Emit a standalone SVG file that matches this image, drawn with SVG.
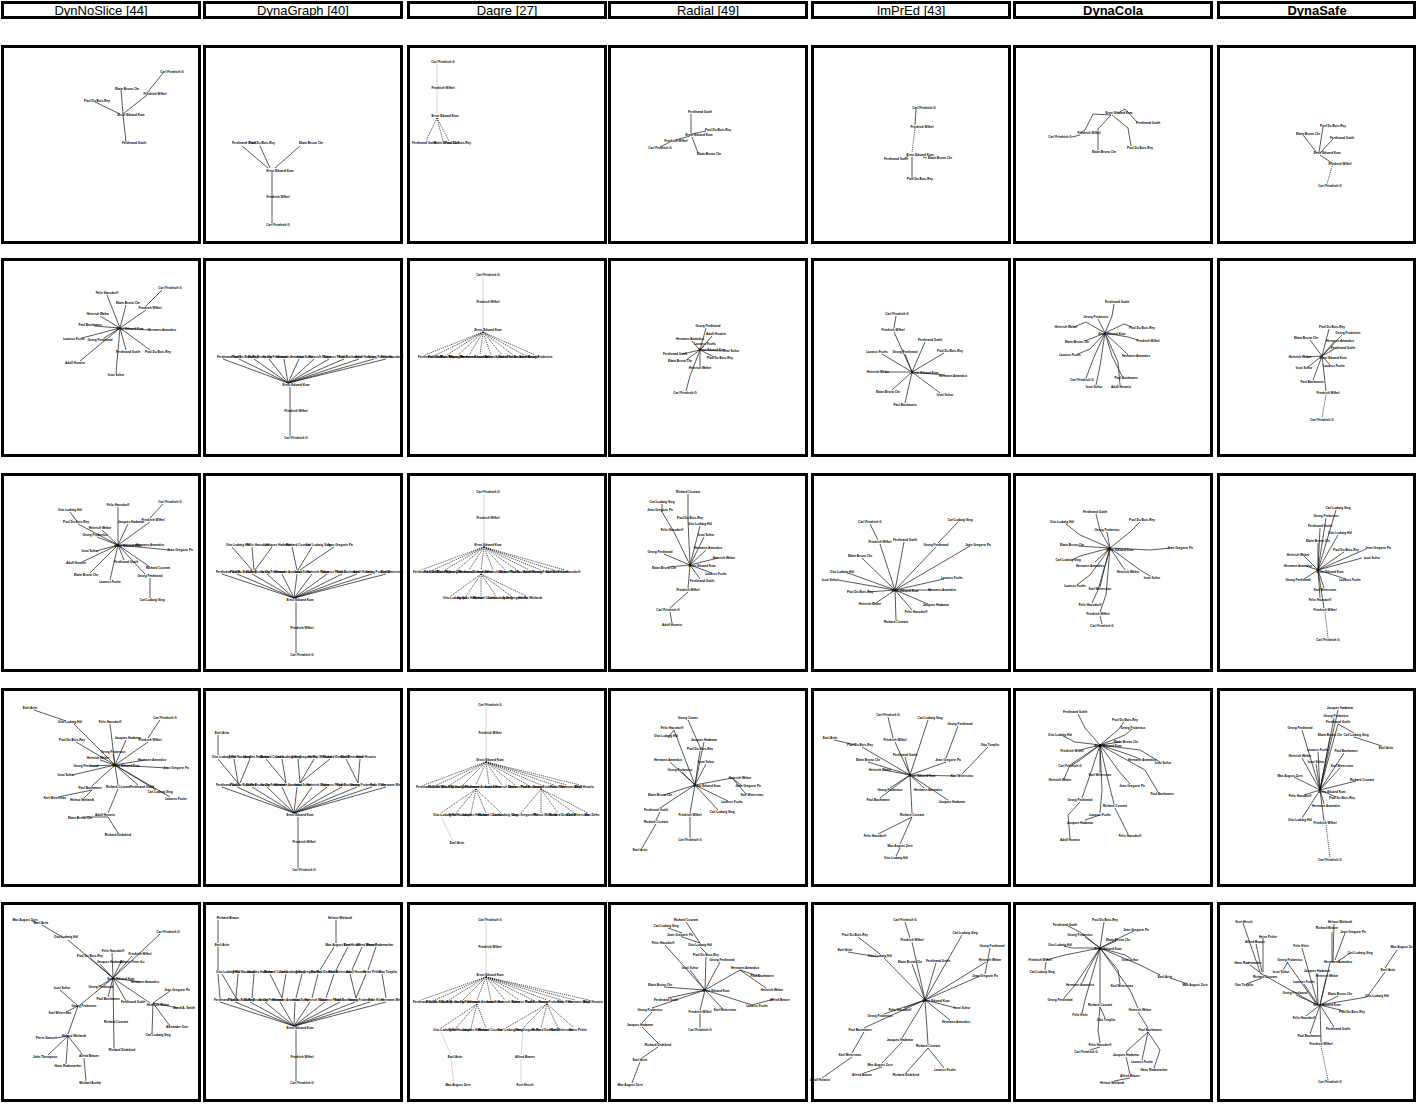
<svg xmlns="http://www.w3.org/2000/svg" width="1417" height="1104" viewBox="0 0 1417 1104">
<style>
.f{fill:#fff;stroke:#000;stroke-width:3}
.ht{font-family:"Liberation Sans",Arial,sans-serif;font-size:13px;text-anchor:middle;fill:#000}
.bd{font-weight:bold}
#connectors path{fill:none;stroke:#111;stroke-width:0.7}
#connectors path.d{stroke-dasharray:1.2 0.9}
#connectors path.g{stroke:#c4c4c4}
.nodes text{font-family:"Liberation Sans",Arial,sans-serif;font-size:3.1px;font-weight:bold;text-anchor:middle;fill:#000}
</style>
<rect x="0" y="0" width="1417" height="1104" fill="#fff"/>
<g id="headers">
<rect class="f" x="2.5" y="2.5" width="197" height="15"/><text class="ht" x="101" y="14.5">DynNoSlice [44]</text>
<rect class="f" x="204.5" y="2.5" width="197" height="15"/><text class="ht" x="303" y="14.5">DynaGraph [40]</text>
<rect class="f" x="408.5" y="2.5" width="197" height="15"/><text class="ht" x="507" y="14.5">Dagre [27]</text>
<rect class="f" x="609.5" y="2.5" width="197" height="15"/><text class="ht" x="708" y="14.5">Radial [49]</text>
<rect class="f" x="812.5" y="2.5" width="197" height="15"/><text class="ht" x="911" y="14.5">ImPrEd [43]</text>
<rect class="f" x="1014.5" y="2.5" width="197" height="15"/><text class="ht bd" x="1113" y="14.5">DynaCola</text>
<rect class="f" x="1218.5" y="2.5" width="196" height="15"/><text class="ht bd" x="1317" y="14.5">DynaSafe</text>
</g>
<g id="frames">
<rect class="f" x="2.5" y="46.5" width="197" height="196"/><rect class="f" x="204.5" y="46.5" width="197" height="196"/><rect class="f" x="408.5" y="46.5" width="197" height="196"/><rect class="f" x="609.5" y="46.5" width="197" height="196"/><rect class="f" x="812.5" y="46.5" width="197" height="196"/><rect class="f" x="1014.5" y="46.5" width="197" height="196"/><rect class="f" x="1218.5" y="46.5" width="196" height="196"/>
<rect class="f" x="2.5" y="259.5" width="197" height="196"/><rect class="f" x="204.5" y="259.5" width="197" height="196"/><rect class="f" x="408.5" y="259.5" width="197" height="196"/><rect class="f" x="609.5" y="259.5" width="197" height="196"/><rect class="f" x="812.5" y="259.5" width="197" height="196"/><rect class="f" x="1014.5" y="259.5" width="197" height="196"/><rect class="f" x="1218.5" y="259.5" width="196" height="196"/>
<rect class="f" x="2.5" y="474.5" width="197" height="196"/><rect class="f" x="204.5" y="474.5" width="197" height="196"/><rect class="f" x="408.5" y="474.5" width="197" height="196"/><rect class="f" x="609.5" y="474.5" width="197" height="196"/><rect class="f" x="812.5" y="474.5" width="197" height="196"/><rect class="f" x="1014.5" y="474.5" width="197" height="196"/><rect class="f" x="1218.5" y="474.5" width="196" height="196"/>
<rect class="f" x="2.5" y="689.5" width="197" height="196"/><rect class="f" x="204.5" y="689.5" width="197" height="196"/><rect class="f" x="408.5" y="689.5" width="197" height="196"/><rect class="f" x="609.5" y="689.5" width="197" height="196"/><rect class="f" x="812.5" y="689.5" width="197" height="196"/><rect class="f" x="1014.5" y="689.5" width="197" height="196"/><rect class="f" x="1218.5" y="689.5" width="196" height="196"/>
<rect class="f" x="2.5" y="903.5" width="197" height="197"/><rect class="f" x="204.5" y="903.5" width="197" height="197"/><rect class="f" x="408.5" y="903.5" width="197" height="197"/><rect class="f" x="609.5" y="903.5" width="197" height="197"/><rect class="f" x="812.5" y="903.5" width="197" height="197"/><rect class="f" x="1014.5" y="903.5" width="197" height="197"/><rect class="f" x="1218.5" y="903.5" width="196" height="197"/>
</g>
<g id="connectors">
<path d="M163,73L147,93M147,95L123,114M121,90L123,114M95,102L120,114M123,115L126,142"/>
<path d="M242,146L268,168M260,146L270,168M300,146L275,168M272,172L272,223"/>
<path class="g" d="M437,64L437,114"/><path class="d" d="M437,118L426,141M437,118L443,141M437,118L449,141"/>
<path d="M691,114L691,134M706,131L692,134M690,136L675,140M670,142L660,147M692,137L698,153"/>
<path d="M916,109L915,125M912,157L912,178M905,158L908,156M923,157L927,158"/><path class="d" d="M915,128L912,153"/>
<path d="M1111,115L1093,114L1085,130L1080,133M1072,137L1080,135M1111,115L1098,129L1098,150M1112,115L1128,128L1131,146M1118,113L1125,109L1137,122"/>
<path d="M1323,127L1319,152M1303,135L1317,153M1333,139L1320,153M1320,155L1332,163"/><path class="d" d="M1332,166L1327,184"/>

<path d="M162,290L146,306M146,310L120,328M107,295L120,328M126,305L120,328M100,316L120,328M94,326L120,328M150,330L120,328M104,338L120,328M82,338L120,328M150,350L120,328M126,350L120,328M80,361L120,328M116,373L120,328"/>
<path d="M288,383L223,359M288,383L239,359M288,383L254,359M288,383L269,359M288,383L284,359M288,383L299,359M288,383L314,359M288,383L329,359M288,383L344,359M288,383L359,359M288,383L374,359M288,383L386,359M290,387L290,436"/>
<path class="g" d="M483,277L483,328"/><path class="d" d="M483,332L425,355M483,332L436,355M483,332L447,355M483,332L458,355M483,332L469,355M483,332L480,355M483,332L491,355M483,332L502,355M483,332L513,355M483,332L524,355M483,332L535,355"/>
<path d="M700,350L706,328M700,350L712,336M700,350L692,341M700,350L704,346M700,350L722,351M700,350L714,357M700,350L682,354M700,350L686,360M700,350L700,366M700,350L690,376L686,391"/>
<path d="M896,316L894,328M894,332L912,372M925,342L912,372M905,354L912,372M944,353L912,372M885,372L912,372M945,375L912,372M892,390L912,372M940,393L912,372M905,403L912,372M882,354L912,372"/>
<path d="M1105,333L1112,316L1114,304M1105,333L1098,319M1105,333L1124,324L1132,327M1105,333L1086,322L1074,327M1105,333L1128,337L1138,340M1105,333L1085,341M1105,333L1090,349L1078,354M1105,333L1122,349L1128,355M1105,333L1112,356L1122,376M1105,333L1094,357L1086,378M1105,333L1100,366L1096,385M1105,333L1118,362L1120,385"/>
<path d="M1322,356L1329,329M1322,356L1342,335M1322,356L1310,340M1322,356L1334,342M1322,356L1336,348M1322,356L1306,357M1322,356L1330,365M1322,356L1308,367M1322,356L1313,380M1322,356L1326,391"/><path class="d" d="M1326,395L1322,418"/>

<path d="M163,504L150,518M150,522L118,545M118,507L118,545M70,512L76,520M78,524L118,545M128,524L118,545M102,530L118,545M97,537L118,545M140,545L118,545M170,550L118,545M96,551L118,545M124,560L118,545M150,567L118,545M145,574L118,545M90,573L118,545M110,580L118,545M150,598L150,578M82,562L118,545"/>
<path d="M232,547L252,570M252,547L254,570M272,547L255,570M292,547L297,570M312,547L298,570M334,547L300,570M294,598L222,574M294,598L237,574M294,598L252,574M294,598L267,574M294,598L282,574M294,598L297,574M294,598L312,574M294,598L327,574M294,598L342,574M294,598L357,574M294,598L372,574M294,598L386,574M296,602L296,653"/>
<path class="g" d="M484,494L484,543"/><path class="d" d="M484,547L421,570M484,547L433,570M484,547L445,570M484,547L457,570M484,547L469,570M484,547L481,570M484,547L493,570M484,547L505,570M484,547L517,570M484,547L529,570M484,547L541,570M484,547L553,570M484,547L565,570M481,574L451,596M481,574L466,596M481,574L481,596M481,574L496,596M481,574L511,596M481,574L526,596"/>
<path d="M690,565L688,520M688,520L688,494M690,565L700,526M690,565L674,532M674,532L662,512M662,512L662,504M690,565L704,537M690,565L664,554M690,565L706,550M690,565L718,558M690,565L712,573M690,565L668,567M690,565L700,579M690,565L688,588M688,592L670,608M670,612L672,623"/>
<path d="M870,524L878,540M880,544L895,590M958,522L938,543M936,547L895,590M904,542L895,590M970,546L895,590M862,558L895,590M848,573L895,590M838,580L895,590M868,592L895,590M932,590L895,590M944,579L895,590M928,604L895,590M876,603L895,590M912,610L895,590M896,620L895,590"/>
<path d="M1110,548L1100,530L1096,514M1110,548L1130,532L1140,522M1110,548L1080,535L1066,524M1110,548L1107,532M1110,548L1078,546M1110,548L1150,550L1170,548M1110,548L1080,556L1072,560M1110,548L1095,562M1110,548L1125,570M1110,548L1140,570L1150,576M1110,548L1090,575L1078,584M1110,548L1104,570L1100,587M1110,548L1098,590L1092,603M1110,548L1106,595L1100,612M1100,616L1102,624"/>
<path d="M1318,570L1336,510M1318,570L1326,518M1318,570L1320,528M1318,570L1338,535M1318,570L1318,543M1318,570L1344,552M1318,570L1366,549M1318,570L1362,558M1318,570L1304,556M1318,570L1306,566M1318,570L1346,579M1318,570L1304,579M1318,570L1324,588M1318,570L1320,598M1318,570L1324,608"/><path class="d" d="M1325,612L1328,638"/>

<path d="M34,710L66,721M74,724L115,765M110,724L115,765M160,720L148,738M148,742L115,765M76,742L115,765M126,740L115,765M113,754L115,765M100,760L115,765M145,760L115,765M90,766L115,765M168,768L115,765M72,775L115,765M115,765L92,786M92,790L58,797M92,790L84,798M115,765L138,785M115,765L118,785M115,765L156,790M115,765L170,797M118,789L108,813M108,817L82,817M108,817L118,833"/>
<path d="M218,735L218,755M218,759L238,783M234,759L238,783M250,759L240,783M266,759L286,783M282,759L286,783M298,759L300,783M314,759L300,783M330,759L300,783M346,759L358,783M360,759L358,783M294,813L222,787M294,813L237,787M294,813L252,787M294,813L267,787M294,813L282,787M294,813L297,787M294,813L312,787M294,813L327,787M294,813L342,787M294,813L357,787M294,813L372,787M294,813L386,787M298,817L298,868"/>
<path class="g" d="M486,707L486,758M441,817L453,841"/><path class="d" d="M486,762L424,785M486,762L437,785M486,762L450,785M486,762L463,785M486,762L476,785M486,762L489,785M486,762L502,785M486,762L515,785M486,762L528,785M486,762L541,785M486,762L554,785M486,762L567,785M486,762L580,785M476,789L441,813M476,789L456,813M476,789L471,813M476,789L486,813M476,789L501,813M541,789L521,813M541,789L541,813M541,789L558,813M541,789L574,813M541,789L588,813"/>
<path d="M695,785L700,751M700,747L688,720M695,785L674,730M674,730L668,738M695,785L704,742M695,785L670,762M695,785L706,764M695,785L682,772M695,785L732,778M732,778L742,786M732,778L746,794M695,785L728,801M695,785L664,795M695,785L660,808M660,812L656,820M656,824L642,848M695,785L690,813M690,817L690,838M695,785L718,810"/>
<path d="M888,717L893,738M895,742L910,775M910,775L928,720M958,726L946,758M946,762L910,775M988,747L962,774M955,776L910,775M834,740L856,745M862,747L910,775M905,757L910,775M868,762L910,775M884,770L910,775M890,788L910,775M924,788L910,775M948,800L910,775M880,798L910,775M910,775L912,813M912,817L878,834M912,817L900,844M900,848L896,856"/>
<path d="M1100,745L1085,728L1078,714M1100,745L1118,730L1124,722M1100,745L1125,735L1132,729M1100,745L1075,742L1063,736M1100,745L1120,742M1100,745L1080,750M1100,745L1130,755L1140,759M1100,745L1140,750L1160,762M1100,745L1080,760L1072,765M1100,745L1100,773M1100,745L1070,765L1064,779M1100,745L1118,770L1130,784M1100,745L1145,770L1158,792M1100,745L1090,775L1082,798M1100,745L1108,780L1114,804M1100,745L1102,790L1100,813M1100,815L1085,820M1115,808L1128,834M1080,802L1068,815L1070,838"/>
<path d="M1320,790L1338,710M1320,790L1334,718M1320,790L1338,724M1338,724L1354,733M1354,737L1382,746M1320,790L1302,730M1320,790L1330,737M1320,790L1318,752M1320,790L1344,753M1320,790L1302,758M1320,790L1316,764M1320,790L1340,768M1320,790L1294,777M1320,790L1356,781M1320,790L1304,795M1320,790L1336,797M1320,790L1324,804M1320,790L1302,818M1320,790L1324,821"/><path class="d" d="M1326,825L1330,858"/>

<path d="M32,921L37,923M42,925L64,938M68,940L113,978M160,934L113,978M112,953L113,978M132,956L113,978M122,960L113,978M100,964L113,978M90,958L113,978M113,978L140,982M113,978L100,986M113,978L150,1003M153,1003L170,991M153,1003L178,1008M153,1003L170,1026M153,1003L152,1034M113,978L108,997M113,978L126,1001M113,978L114,1048M113,978L80,1005M78,1006L60,990M78,1006L66,1012M78,1006L68,1034M68,1036L56,1038M68,1036L48,1055M68,1036L66,1064M68,1036L82,1054M84,1058L86,1081"/>
<path d="M218,920L218,943M218,947L218,970M218,974L220,998M336,920L336,943M334,947L320,970M348,947L336,970M362,947L352,970M376,947L368,970M222,974L236,998M238,974L236,998M254,974L252,998M270,974L282,998M286,974L282,998M302,974L296,998M318,974L312,998M334,974L326,998M350,974L356,998M366,974L356,998M382,974L386,998M294,1026L220,1002M294,1026L235,1002M294,1026L250,1002M294,1026L265,1002M294,1026L280,1002M294,1026L295,1002M294,1026L310,1002M294,1026L325,1002M294,1026L340,1002M294,1026L355,1002M294,1026L370,1002M294,1026L386,1002M296,1030L296,1081"/>
<path class="g" d="M486,922L486,973M441,1032L451,1055M451,1059L454,1083M523,1032L521,1055M521,1059L521,1083"/><path class="d" d="M486,977L421,1000M486,977L435,1000M486,977L449,1000M486,977L463,1000M486,977L477,1000M486,977L491,1000M486,977L505,1000M486,977L519,1000M486,977L533,1000M486,977L547,1000M486,977L561,1000M486,977L575,1000M486,977L589,1000M477,1004L441,1028M477,1004L456,1028M477,1004L471,1028M477,1004L486,1028M547,1004L506,1028M547,1004L523,1028M547,1004L541,1028M547,1004L558,1028M547,1004L574,1028"/>
<path d="M705,990L706,957M706,953L700,947M700,943L686,922M700,943L682,937M682,933L668,928M705,990L665,945M705,990L720,962M705,990L690,970M705,990L740,970M740,970L758,976M740,970L766,988M705,990L752,1005M752,1005L774,999M705,990L664,987M705,990L668,998M705,990L652,1008M652,1012L642,1023M705,990L700,1010M705,990L722,1008M642,1027L658,1043M700,1014L700,1028M658,1047L642,1058M640,1062L632,1083"/>
<path d="M905,922L910,938M912,942L925,1000M962,935L925,1000M990,948L985,974M980,976L925,1000M858,937L880,954M848,952L878,957M884,958L925,1000M912,964L925,1000M936,963L925,1000M986,962L925,1000M904,1008L925,1000M884,1014L925,1000M956,1008L925,1000M950,1020L925,1000M925,1000L864,1028M864,1032L852,1053M925,1000L902,1038M925,1000L928,1044M902,1042L882,1063M852,1057L822,1078M882,1067L864,1073M928,1048L906,1073M928,1048L944,1068"/>
<path d="M1100,948L1080,932L1068,926M1100,948L1104,922M1100,948L1085,937M1100,948L1072,948L1064,946M1100,948L1125,935L1134,931M1100,948L1116,941M1100,948L1065,955L1046,960M1046,962L1045,970M1100,948L1125,955L1130,958M1100,948L1140,965L1160,975M1170,978L1188,984M1100,948L1088,970L1082,983M1100,948L1118,970L1120,984M1100,948L1075,985L1064,998M1100,948L1100,980L1100,1003M1100,948L1130,990L1138,1008M1100,948L1085,1000L1082,1013M1100,1007L1105,1018M1138,1012L1148,1028M1100,1007L1098,1030L1100,1043M1100,1047L1090,1050M1148,1032L1128,1050L1126,1053M1148,1032L1142,1060M1148,1032L1160,1050L1154,1068M1126,1057L1130,1074M1130,1078L1114,1081"/>
<path d="M1243,923L1260,972M1260,973L1317,1005M1263,938L1263,972M1256,944L1262,972M1250,965L1262,974M1246,984L1262,978M1287,962L1317,1005M1283,970L1288,962M1302,948L1318,1005M1317,973L1318,1005M1326,978L1320,1005M1304,984L1318,1005M1296,995L1318,1005M1338,996L1320,1005M1320,1005L1367,997M1367,997L1385,972M1385,968L1397,950M1320,1005L1330,963M1332,962L1332,932M1333,962L1334,924M1335,960L1345,933M1337,962L1350,953M1320,1005L1344,1011M1320,1005L1306,1016M1320,1005L1334,1027M1320,1005L1310,1034M1320,1005L1321,1042"/><path class="d" d="M1321,1046L1328,1080"/>
</g>

<g class="nodes" id="panel-r0c0">
<g id="a1"><text x="172" y="73">Carl Friedrich G</text></g><g id="a2"><text x="155" y="95">Friedrich Wilhel</text></g><g id="a3"><text x="127" y="90">Elwin Bruno Chr</text></g><g id="a4"><text x="97" y="102">Paul Du Bois-Rey</text></g><g id="a5"><text x="131" y="116">Ernst Eduard Kum</text></g><g id="a6"><text x="134" y="144">Ferdinand Gotth</text></g>
</g>
<g class="nodes" id="panel-r0c1">
<g id="b1"><text x="244" y="144">Ferdinand Gotth</text></g><g id="b2"><text x="262" y="144">Paul Du Bois-Rey</text></g><g id="b3"><text x="311" y="144">Elwin Bruno Chr</text></g><g id="b4"><text x="280" y="172">Ernst Eduard Kum</text></g><g id="b5"><text x="278" y="198">Friedrich Wilhel</text></g><g id="b6"><text x="278" y="226">Carl Friedrich G</text></g>
</g>
<g class="nodes" id="panel-r0c2">
<g id="c1"><text x="443" y="63">Carl Friedrich G</text></g><g id="c2"><text x="443" y="89">Friedrich Wilhel</text></g><g id="c3"><text x="445" y="117">Ernst Eduard Kum</text></g><g id="c4"><text x="424" y="144">Ferdinand Gotth</text></g><g id="c5"><text x="446" y="144">Elwin Bruno Chr</text></g><g id="c6"><text x="458" y="144">Paul Du Bois-Rey</text></g>
</g>
<g class="nodes" id="panel-r0c3">
<g id="d1"><text x="700" y="113">Ferdinand Gotth</text></g><g id="d2"><text x="718" y="131">Paul Du Bois-Rey</text></g><g id="d3"><text x="699" y="136">Ernst Eduard Kum</text></g><g id="d4"><text x="676" y="142">Friedrich Wilhel</text></g><g id="d5"><text x="660" y="149">Carl Friedrich G</text></g><g id="d6"><text x="709" y="155">Elwin Bruno Chr</text></g>
</g>
<g class="nodes" id="panel-r0c4">
<g id="e1"><text x="924" y="109">Carl Friedrich G</text></g><g id="e2"><text x="922" y="128">Friedrich Wilhel</text></g><g id="e3"><text x="920" y="156">Ernst Eduard Kum</text></g><g id="e4"><text x="896" y="160">Ferdinand Gotth</text></g><g id="e5"><text x="940" y="159">Elwin Bruno Chr</text></g><g id="e6"><text x="920" y="180">Paul Du Bois-Rey</text></g>
</g>
<g class="nodes" id="panel-r0c5">
<g id="f1"><text x="1119" y="114">Ernst Eduard Kum</text></g><g id="f2"><text x="1148" y="124">Ferdinand Gotth</text></g><g id="f3"><text x="1089" y="134">Friedrich Wilhel</text></g><g id="f4"><text x="1060" y="138">Carl Friedrich G</text></g><g id="f5"><text x="1104" y="153">Elwin Bruno Chr</text></g><g id="f6"><text x="1140" y="149">Paul Du Bois-Rey</text></g>
</g>
<g class="nodes" id="panel-r0c6">
<g id="g1"><text x="1333" y="127">Paul Du Bois-Rey</text></g><g id="g2"><text x="1308" y="135">Elwin Bruno Chr</text></g><g id="g3"><text x="1342" y="139">Ferdinand Gotth</text></g><g id="g4"><text x="1327" y="154">Ernst Eduard Kum</text></g><g id="g5"><text x="1340" y="165">Friedrich Wilhel</text></g><g id="g6"><text x="1330" y="187">Carl Friedrich G</text></g>
</g>

<g class="nodes" id="panel-r1c0">
<g id="h1"><text x="130" y="330">Ernst Eduard Kum</text></g><g id="h2"><text x="170" y="289">Carl Friedrich G</text></g><g id="h3"><text x="150" y="309">Friedrich Wilhel</text></g><g id="h4"><text x="107" y="294">Felix Hausdorff</text></g><g id="h5"><text x="128" y="304">Elwin Bruno Chr</text></g><g id="h6"><text x="98" y="315">Heinrich Weber</text></g><g id="h7"><text x="90" y="326">Paul Bachmann</text></g><g id="h8"><text x="162" y="331">Hermann Amandus</text></g><g id="h9"><text x="100" y="341">Georg Ferdinand</text></g><g id="h10"><text x="74" y="340">Lazarus Fuchs</text></g><g id="h11"><text x="158" y="353">Paul Du Bois-Rey</text></g><g id="h12"><text x="128" y="353">Ferdinand Gotth</text></g><g id="h13"><text x="75" y="364">Adolf Hurwitz</text></g><g id="h14"><text x="116" y="376">Issai Schur</text></g>
</g>
<g class="nodes" id="panel-r1c1">
<g id="i1"><text x="296" y="386">Ernst Eduard Kum</text></g><g id="i2"><text x="296" y="412">Friedrich Wilhel</text></g><g id="i3"><text x="296" y="439">Carl Friedrich G</text></g><g id="i4"><text x="229" y="358">Ferdinand Gotth</text></g><g id="i5"><text x="245" y="358">Paul Du Bois-Rey</text></g><g id="i6"><text x="260" y="358">Elwin Bruno Chr</text></g><g id="i7"><text x="275" y="358">Georg Ferdinand</text></g><g id="i8"><text x="290" y="358">Hermann Amandus</text></g><g id="i9"><text x="305" y="358">Issai Schur</text></g><g id="i10"><text x="320" y="358">Heinrich Weber</text></g><g id="i11"><text x="335" y="358">Lazarus Fuchs</text></g><g id="i12"><text x="350" y="358">Paul Bachmann</text></g><g id="i13"><text x="365" y="358">Adolf Hurwitz</text></g><g id="i14"><text x="380" y="358">Georg Frobenius</text></g><g id="i15"><text x="392" y="358">Felix Hausdorff</text></g>
</g>
<g class="nodes" id="panel-r1c2">
<g id="j1"><text x="488" y="276">Carl Friedrich G</text></g><g id="j2"><text x="488" y="303">Friedrich Wilhel</text></g><g id="j3"><text x="488" y="331">Ernst Eduard Kum</text></g><g id="j4"><text x="430" y="358">Ferdinand Gotth</text></g><g id="j5"><text x="441" y="358">Paul Du Bois-Rey</text></g><g id="j6"><text x="452" y="358">Elwin Bruno Chr</text></g><g id="j7"><text x="463" y="358">Georg Ferdinand</text></g><g id="j8"><text x="474" y="358">Hermann Amandus</text></g><g id="j9"><text x="485" y="358">Issai Schur</text></g><g id="j10"><text x="496" y="358">Heinrich Weber</text></g><g id="j11"><text x="507" y="358">Lazarus Fuchs</text></g><g id="j12"><text x="518" y="358">Paul Bachmann</text></g><g id="j13"><text x="529" y="358">Adolf Hurwitz</text></g><g id="j14"><text x="540" y="358">Georg Frobenius</text></g>
</g>
<g class="nodes" id="panel-r1c3">
<g id="k1"><text x="712" y="351">Ernst Eduard Kum</text></g><g id="k2"><text x="708" y="327">Georg Ferdinand</text></g><g id="k3"><text x="716" y="335">Adolf Hurwitz</text></g><g id="k4"><text x="690" y="340">Hermann Amandus</text></g><g id="k5"><text x="705" y="345">Lazarus Fuchs</text></g><g id="k6"><text x="731" y="352">Issai Schur</text></g><g id="k7"><text x="720" y="359">Paul Du Bois-Rey</text></g><g id="k8"><text x="675" y="355">Ferdinand Gotth</text></g><g id="k9"><text x="680" y="362">Elwin Bruno Chr</text></g><g id="k10"><text x="700" y="369">Heinrich Weber</text></g><g id="k11"><text x="685" y="394">Carl Friedrich G</text></g>
</g>
<g class="nodes" id="panel-r1c4">
<g id="l1"><text x="925" y="374">Ernst Eduard Kum</text></g><g id="l2"><text x="897" y="315">Carl Friedrich G</text></g><g id="l3"><text x="893" y="331">Friedrich Wilhel</text></g><g id="l4"><text x="930" y="341">Ferdinand Gotth</text></g><g id="l5"><text x="905" y="353">Georg Ferdinand</text></g><g id="l6"><text x="950" y="352">Paul Du Bois-Rey</text></g><g id="l7"><text x="878" y="373">Heinrich Weber</text></g><g id="l8"><text x="953" y="377">Hermann Amandus</text></g><g id="l9"><text x="888" y="393">Elwin Bruno Chr</text></g><g id="l10"><text x="945" y="396">Issai Schur</text></g><g id="l11"><text x="905" y="406">Paul Bachmann</text></g><g id="l12"><text x="877" y="353">Lazarus Fuchs</text></g>
</g>
<g class="nodes" id="panel-r1c5">
<g id="m1"><text x="1112" y="335">Ernst Eduard Kum</text></g><g id="m2"><text x="1117" y="303">Ferdinand Gotth</text></g><g id="m3"><text x="1096" y="318">Georg Frobenius</text></g><g id="m4"><text x="1142" y="329">Paul Du Bois-Rey</text></g><g id="m5"><text x="1066" y="328">Heinrich Weber</text></g><g id="m6"><text x="1148" y="342">Friedrich Wilhel</text></g><g id="m7"><text x="1077" y="343">Elwin Bruno Chr</text></g><g id="m8"><text x="1070" y="356">Lazarus Fuchs</text></g><g id="m9"><text x="1136" y="357">Hermann Amandus</text></g><g id="m10"><text x="1126" y="379">Paul Bachmann</text></g><g id="m11"><text x="1082" y="381">Carl Friedrich G</text></g><g id="m12"><text x="1094" y="388">Issai Schur</text></g><g id="m13"><text x="1121" y="388">Adolf Hurwitz</text></g>
</g>
<g class="nodes" id="panel-r1c6">
<g id="n1"><text x="1333" y="359">Ernst Eduard Kum</text></g><g id="n2"><text x="1332" y="328">Paul Du Bois-Rey</text></g><g id="n3"><text x="1348" y="334">Georg Frobenius</text></g><g id="n4"><text x="1306" y="339">Elwin Bruno Chr</text></g><g id="n5"><text x="1340" y="342">Hermann Amandus</text></g><g id="n6"><text x="1343" y="349">Ferdinand Gotth</text></g><g id="n7"><text x="1300" y="358">Heinrich Weber</text></g><g id="n8"><text x="1334" y="367">Lazarus Fuchs</text></g><g id="n9"><text x="1304" y="369">Issai Schur</text></g><g id="n10"><text x="1312" y="383">Paul Bachmann</text></g><g id="n11"><text x="1328" y="394">Friedrich Wilhel</text></g><g id="n12"><text x="1322" y="421">Carl Friedrich G</text></g>
</g>

<g class="nodes" id="panel-r2c0">
<g id="o1"><text x="128" y="547">Ernst Eduard Kum</text></g><g id="o2"><text x="170" y="503">Carl Friedrich G</text></g><g id="o3"><text x="153" y="521">Friedrich Wilhel</text></g><g id="o4"><text x="118" y="506">Felix Hausdorff</text></g><g id="o5"><text x="70" y="511">Otto Ludwig Höl</text></g><g id="o6"><text x="76" y="523">Paul Du Bois-Rey</text></g><g id="o7"><text x="131" y="523">Jacques Hadamar</text></g><g id="o8"><text x="100" y="529">Heinrich Weber</text></g><g id="o9"><text x="95" y="536">Georg Frobenius</text></g><g id="o10"><text x="150" y="546">Hermann Amandus</text></g><g id="o11"><text x="180" y="551">Jean Gregorie Pa</text></g><g id="o12"><text x="90" y="552">Issai Schur</text></g><g id="o13"><text x="126" y="563">Ferdinand Gotth</text></g><g id="o14"><text x="158" y="569">Richard Courant</text></g><g id="o15"><text x="150" y="577">Georg Ferdinand</text></g><g id="o16"><text x="86" y="576">Elwin Bruno Chr</text></g><g id="o17"><text x="110" y="583">Lazarus Fuchs</text></g><g id="o18"><text x="152" y="601">Carl Ludwig Sieg</text></g><g id="o19"><text x="76" y="564">Adolf Hurwitz</text></g>
</g>
<g class="nodes" id="panel-r2c1">
<g id="p1"><text x="238" y="546">Otto Ludwig Höl</text></g><g id="p2"><text x="258" y="546">Felix Hausdorff</text></g><g id="p3"><text x="278" y="546">Jacques Hadamar</text></g><g id="p4"><text x="298" y="546">Richard Courant</text></g><g id="p5"><text x="318" y="546">Carl Ludwig Sieg</text></g><g id="p6"><text x="340" y="546">Jean Gregorie Pa</text></g>
<g id="p7"><text x="228" y="573">Ferdinand Gotth</text></g><g id="p8"><text x="243" y="573">Paul Du Bois-Rey</text></g><g id="p9"><text x="258" y="573">Elwin Bruno Chr</text></g><g id="p10"><text x="273" y="573">Georg Ferdinand</text></g><g id="p11"><text x="288" y="573">Hermann Amandus</text></g><g id="p12"><text x="303" y="573">Issai Schur</text></g><g id="p13"><text x="318" y="573">Heinrich Weber</text></g><g id="p14"><text x="333" y="573">Lazarus Fuchs</text></g><g id="p15"><text x="348" y="573">Paul Bachmann</text></g><g id="p16"><text x="363" y="573">Adolf Hurwitz</text></g><g id="p17"><text x="378" y="573">Georg Frobenius</text></g><g id="p18"><text x="392" y="573">Karl Weierstras</text></g>
<g id="p19"><text x="300" y="601">Ernst Eduard Kum</text></g><g id="p20"><text x="302" y="629">Friedrich Wilhel</text></g><g id="p21"><text x="302" y="656">Carl Friedrich G</text></g>
</g>
<g class="nodes" id="panel-r2c2">
<g id="q1"><text x="488" y="493">Carl Friedrich G</text></g><g id="q2"><text x="488" y="519">Friedrich Wilhel</text></g><g id="q3"><text x="488" y="546">Ernst Eduard Kum</text></g>
<g id="q4"><text x="425" y="573">Ferdinand Gotth</text></g><g id="q5"><text x="437" y="573">Paul Du Bois-Rey</text></g><g id="q6"><text x="449" y="573">Elwin Bruno Chr</text></g><g id="q7"><text x="461" y="573">Georg Ferdinand</text></g><g id="q8"><text x="473" y="573">Hermann Amandus</text></g><g id="q9"><text x="485" y="573">Issai Schur</text></g><g id="q10"><text x="497" y="573">Heinrich Weber</text></g><g id="q11"><text x="509" y="573">Lazarus Fuchs</text></g><g id="q12"><text x="521" y="573">Paul Bachmann</text></g><g id="q13"><text x="533" y="573">Adolf Hurwitz</text></g><g id="q14"><text x="545" y="573">Georg Frobenius</text></g><g id="q15"><text x="557" y="573">Karl Weierstras</text></g><g id="q16"><text x="569" y="573">Felix Hausdorff</text></g>
<g id="q17"><text x="455" y="599">Otto Ludwig Höl</text></g><g id="q18"><text x="470" y="599">Jacques Hadamar</text></g><g id="q19"><text x="485" y="599">Richard Courant</text></g><g id="q20"><text x="500" y="599">Carl Ludwig Sieg</text></g><g id="q21"><text x="515" y="599">Jean Gregorie Pa</text></g><g id="q22"><text x="530" y="599">Helmut Wielandt</text></g>
</g>
<g class="nodes" id="panel-r2c3">
<g id="r1"><text x="702" y="567">Ernst Eduard Kum</text></g><g id="r2"><text x="688" y="493">Richard Courant</text></g><g id="r3"><text x="662" y="503">Carl Ludwig Sieg</text></g><g id="r4"><text x="660" y="511">Jean Gregorie Pa</text></g><g id="r5"><text x="690" y="519">Paul Du Bois-Rey</text></g><g id="r6"><text x="700" y="525">Otto Ludwig Höl</text></g><g id="r7"><text x="672" y="531">Felix Hausdorff</text></g><g id="r8"><text x="706" y="536">Issai Schur</text></g><g id="r9"><text x="660" y="553">Georg Ferdinand</text></g><g id="r10"><text x="708" y="549">Hermann Amandus</text></g><g id="r11"><text x="724" y="559">Heinrich Weber</text></g><g id="r12"><text x="716" y="575">Lazarus Fuchs</text></g><g id="r13"><text x="664" y="569">Elwin Bruno Chr</text></g><g id="r14"><text x="702" y="582">Ferdinand Gotth</text></g><g id="r15"><text x="688" y="591">Friedrich Wilhel</text></g><g id="r16"><text x="668" y="611">Carl Friedrich G</text></g><g id="r17"><text x="672" y="626">Adolf Hurwitz</text></g>
</g>
<g class="nodes" id="panel-r2c4">
<g id="s1"><text x="905" y="592">Ernst Eduard Kum</text></g><g id="s2"><text x="870" y="523">Carl Friedrich G</text></g><g id="s3"><text x="880" y="543">Friedrich Wilhel</text></g><g id="s4"><text x="960" y="521">Carl Ludwig Sieg</text></g><g id="s5"><text x="936" y="546">Georg Ferdinand</text></g><g id="s6"><text x="905" y="541">Ferdinand Gotth</text></g><g id="s7"><text x="978" y="546">Jean Gregorie Pa</text></g><g id="s8"><text x="860" y="557">Elwin Bruno Chr</text></g><g id="s9"><text x="842" y="573">Otto Ludwig Höl</text></g><g id="s10"><text x="830" y="581">Issai Schur</text></g><g id="s11"><text x="860" y="593">Paul Du Bois-Rey</text></g><g id="s12"><text x="942" y="591">Hermann Amandus</text></g><g id="s13"><text x="952" y="579">Lazarus Fuchs</text></g><g id="s14"><text x="936" y="606">Jacques Hadamar</text></g><g id="s15"><text x="870" y="605">Heinrich Weber</text></g><g id="s16"><text x="916" y="613">Felix Hausdorff</text></g><g id="s17"><text x="896" y="623">Richard Courant</text></g>
</g>
<g class="nodes" id="panel-r2c5">
<g id="t1"><text x="1120" y="551">Ernst Eduard Kum</text></g><g id="t2"><text x="1095" y="513">Ferdinand Gotth</text></g><g id="t3"><text x="1142" y="521">Paul Du Bois-Rey</text></g><g id="t4"><text x="1062" y="523">Otto Ludwig Höl</text></g><g id="t5"><text x="1107" y="531">Georg Frobenius</text></g><g id="t6"><text x="1072" y="546">Elwin Bruno Chr</text></g><g id="t7"><text x="1180" y="549">Jean Gregorie Pa</text></g><g id="t8"><text x="1068" y="561">Carl Ludwig Sieg</text></g><g id="t9"><text x="1090" y="567">Hermann Amandus</text></g><g id="t10"><text x="1128" y="573">Heinrich Weber</text></g><g id="t11"><text x="1152" y="579">Issai Schur</text></g><g id="t12"><text x="1075" y="587">Lazarus Fuchs</text></g><g id="t13"><text x="1100" y="590">Karl Weierstras</text></g><g id="t14"><text x="1090" y="606">Felix Hausdorff</text></g><g id="t15"><text x="1098" y="615">Friedrich Wilhel</text></g><g id="t16"><text x="1102" y="627">Carl Friedrich G</text></g>
</g>
<g class="nodes" id="panel-r2c6">
<g id="u1"><text x="1330" y="573">Ernst Eduard Kum</text></g><g id="u2"><text x="1338" y="509">Carl Ludwig Sieg</text></g><g id="u3"><text x="1326" y="517">Georg Frobenius</text></g><g id="u4"><text x="1320" y="527">Ferdinand Gotth</text></g><g id="u5"><text x="1340" y="534">Otto Ludwig Höl</text></g><g id="u6"><text x="1318" y="542">Elwin Bruno Chr</text></g><g id="u7"><text x="1346" y="551">Paul Du Bois-Rey</text></g><g id="u8"><text x="1378" y="549">Jean Gregorie Pa</text></g><g id="u9"><text x="1372" y="559">Issai Schur</text></g><g id="u10"><text x="1298" y="556">Heinrich Weber</text></g><g id="u11"><text x="1298" y="567">Hermann Amandus</text></g><g id="u12"><text x="1350" y="581">Lazarus Fuchs</text></g><g id="u13"><text x="1298" y="581">Georg Ferdinand</text></g><g id="u14"><text x="1325" y="591">Karl Weierstras</text></g><g id="u15"><text x="1320" y="601">Felix Hausdorff</text></g><g id="u16"><text x="1325" y="611">Friedrich Wilhel</text></g><g id="u17"><text x="1328" y="641">Carl Friedrich G</text></g>
</g>

<g class="nodes" id="panel-r3c0">
<g id="v1"><text x="126" y="767">Ernst Eduard Kum</text></g><g id="v2"><text x="30" y="709">Emil Artin</text></g><g id="v3"><text x="70" y="723">Otto Ludwig Höl</text></g><g id="v4"><text x="110" y="723">Felix Hausdorff</text></g><g id="v5"><text x="165" y="719">Carl Friedrich G</text></g><g id="v6"><text x="150" y="741">Friedrich Wilhel</text></g><g id="v7"><text x="72" y="741">Paul Du Bois-Rey</text></g><g id="v8"><text x="128" y="739">Jacques Hadamar</text></g><g id="v9"><text x="113" y="753">Georg Frobenius</text></g><g id="v10"><text x="98" y="759">Heinrich Weber</text></g><g id="v11"><text x="152" y="761">Hermann Amandus</text></g><g id="v12"><text x="86" y="767">Georg Ferdinand</text></g><g id="v13"><text x="176" y="769">Jean Gregorie Pa</text></g><g id="v14"><text x="66" y="776">Issai Schur</text></g><g id="v15"><text x="90" y="789">Paul Bachmann</text></g><g id="v16"><text x="142" y="788">Ferdinand Gotth</text></g><g id="v17"><text x="118" y="788">Richard Courant</text></g><g id="v18"><text x="55" y="799">Karl Weierstras</text></g><g id="v19"><text x="82" y="801">Helmut Wielandt</text></g><g id="v20"><text x="160" y="793">Carl Ludwig Sieg</text></g><g id="v21"><text x="176" y="800">Lazarus Fuchs</text></g><g id="v22"><text x="105" y="816">Adolf Hurwitz</text></g><g id="v23"><text x="80" y="819">Elwin Bruno Chr</text></g><g id="v24"><text x="118" y="836">Richard Dedekind</text></g>
</g>
<g class="nodes" id="panel-r3c1">
<g id="w1"><text x="222" y="734">Emil Artin</text></g>
<g id="w2"><text x="224" y="758">Otto Ludwig Höl</text></g><g id="w3"><text x="240" y="758">Felix Hausdorff</text></g><g id="w4"><text x="256" y="758">Jacques Hadamar</text></g><g id="w5"><text x="272" y="758">Richard Courant</text></g><g id="w6"><text x="288" y="758">Carl Ludwig Sieg</text></g><g id="w7"><text x="304" y="758">Jean Gregorie Pa</text></g><g id="w8"><text x="320" y="758">Helmut Wielandt</text></g><g id="w9"><text x="336" y="758">Richard Dedekind</text></g><g id="w10"><text x="352" y="758">Karl Weierstras</text></g><g id="w11"><text x="366" y="758">Adolf Hurwitz</text></g>
<g id="w12"><text x="228" y="786">Ferdinand Gotth</text></g><g id="w13"><text x="243" y="786">Paul Du Bois-Rey</text></g><g id="w14"><text x="258" y="786">Elwin Bruno Chr</text></g><g id="w15"><text x="273" y="786">Georg Ferdinand</text></g><g id="w16"><text x="288" y="786">Hermann Amandus</text></g><g id="w17"><text x="303" y="786">Issai Schur</text></g><g id="w18"><text x="318" y="786">Heinrich Weber</text></g><g id="w19"><text x="333" y="786">Lazarus Fuchs</text></g><g id="w20"><text x="348" y="786">Paul Bachmann</text></g><g id="w21"><text x="363" y="786">Georg Frobenius</text></g><g id="w22"><text x="378" y="786">Felix Klein</text></g><g id="w23"><text x="392" y="786">Hermann Weyl</text></g>
<g id="w24"><text x="300" y="816">Ernst Eduard Kum</text></g><g id="w25"><text x="304" y="843">Friedrich Wilhel</text></g><g id="w26"><text x="304" y="871">Carl Friedrich G</text></g>
</g>
<g class="nodes" id="panel-r3c2">
<g id="x1"><text x="490" y="706">Carl Friedrich G</text></g><g id="x2"><text x="490" y="734">Friedrich Wilhel</text></g><g id="x3"><text x="490" y="761">Ernst Eduard Kum</text></g>
<g id="x4"><text x="428" y="788">Ferdinand Gotth</text></g><g id="x5"><text x="441" y="788">Paul Du Bois-Rey</text></g><g id="x6"><text x="454" y="788">Elwin Bruno Chr</text></g><g id="x7"><text x="467" y="788">Georg Ferdinand</text></g><g id="x8"><text x="480" y="788">Hermann Amandus</text></g><g id="x9"><text x="493" y="788">Issai Schur</text></g><g id="x10"><text x="506" y="788">Heinrich Weber</text></g><g id="x11"><text x="519" y="788">Lazarus Fuchs</text></g><g id="x12"><text x="532" y="788">Paul Bachmann</text></g><g id="x13"><text x="545" y="788">Georg Frobenius</text></g><g id="x14"><text x="558" y="788">Felix Klein</text></g><g id="x15"><text x="571" y="788">Hermann Weyl</text></g><g id="x16"><text x="584" y="788">Adolf Hurwitz</text></g>
<g id="x17"><text x="445" y="816">Otto Ludwig Höl</text></g><g id="x18"><text x="460" y="816">Felix Hausdorff</text></g><g id="x19"><text x="475" y="816">Jacques Hadamar</text></g><g id="x20"><text x="490" y="816">Richard Courant</text></g><g id="x21"><text x="505" y="816">Carl Ludwig Sieg</text></g><g id="x22"><text x="525" y="816">Jean Gregorie Pa</text></g><g id="x23"><text x="545" y="816">Helmut Wielandt</text></g><g id="x24"><text x="562" y="816">Richard Dedekind</text></g><g id="x25"><text x="578" y="816">Karl Weierstras</text></g><g id="x26"><text x="592" y="816">Max Dehn</text></g>
<g id="x27"><text x="457" y="844">Emil Artin</text></g>
</g>
<g class="nodes" id="panel-r3c3">
<g id="y1"><text x="707" y="787">Ernst Eduard Kum</text></g><g id="y2"><text x="688" y="719">Georg Cantor</text></g><g id="y3"><text x="672" y="729">Felix Hausdorff</text></g><g id="y4"><text x="666" y="737">Otto Ludwig Höl</text></g><g id="y5"><text x="704" y="741">Jacques Hadamar</text></g><g id="y6"><text x="700" y="750">Paul Du Bois-Rey</text></g><g id="y7"><text x="668" y="761">Hermann Amandus</text></g><g id="y8"><text x="706" y="763">Issai Schur</text></g><g id="y9"><text x="680" y="771">Georg Frobenius</text></g><g id="y10"><text x="740" y="779">Heinrich Weber</text></g><g id="y11"><text x="748" y="787">Jean Gregorie Pa</text></g><g id="y12"><text x="752" y="796">Karl Weierstras</text></g><g id="y13"><text x="732" y="803">Lazarus Fuchs</text></g><g id="y14"><text x="660" y="796">Elwin Bruno Chr</text></g><g id="y15"><text x="656" y="811">Ferdinand Gotth</text></g><g id="y16"><text x="656" y="823">Richard Courant</text></g><g id="y17"><text x="690" y="816">Friedrich Wilhel</text></g><g id="y18"><text x="722" y="813">Carl Ludwig Sieg</text></g><g id="y19"><text x="690" y="841">Carl Friedrich G</text></g><g id="y20"><text x="640" y="851">Emil Artin</text></g>
</g>
<g class="nodes" id="panel-r3c4">
<g id="z1"><text x="922" y="777">Ernst Eduard Kum</text></g><g id="z2"><text x="888" y="716">Carl Friedrich G</text></g><g id="z3"><text x="895" y="741">Friedrich Wilhel</text></g><g id="z4"><text x="930" y="719">Carl Ludwig Sieg</text></g><g id="z5"><text x="960" y="725">Georg Ferdinand</text></g><g id="z6"><text x="990" y="746">Otto Toeplitz</text></g><g id="z7"><text x="830" y="739">Emil Artin</text></g><g id="z8"><text x="860" y="746">Paul Du Bois-Rey</text></g><g id="z9"><text x="905" y="756">Ferdinand Gotth</text></g><g id="z10"><text x="948" y="761">Jean Gregorie Pa</text></g><g id="z11"><text x="868" y="761">Elwin Bruno Chr</text></g><g id="z12"><text x="880" y="771">Heinrich Weber</text></g><g id="z13"><text x="962" y="777">Karl Weierstras</text></g><g id="z14"><text x="890" y="791">Georg Frobenius</text></g><g id="z15"><text x="928" y="791">Hermann Amandus</text></g><g id="z16"><text x="952" y="803">Jacques Hadamar</text></g><g id="z17"><text x="878" y="801">Paul Bachmann</text></g><g id="z18"><text x="912" y="816">Richard Courant</text></g><g id="z19"><text x="875" y="837">Felix Hausdorff</text></g><g id="z20"><text x="900" y="847">Max August Zorn</text></g><g id="z21"><text x="896" y="859">Otto Ludwig Höl</text></g>
</g>
<g class="nodes" id="panel-r3c5">
<g id="A1"><text x="1108" y="747">Ernst Eduard Kum</text></g><g id="A2"><text x="1075" y="713">Ferdinand Gotth</text></g><g id="A3"><text x="1125" y="721">Paul Du Bois-Rey</text></g><g id="A4"><text x="1133" y="729">Georg Frobenius</text></g><g id="A5"><text x="1060" y="736">Otto Ludwig Höl</text></g><g id="A6"><text x="1126" y="743">Elwin Bruno Chr</text></g><g id="A7"><text x="1072" y="752">Friedrich Wilhel</text></g><g id="A8"><text x="1142" y="761">Hermann Amandus</text></g><g id="A9"><text x="1163" y="764">Issai Schur</text></g><g id="A10"><text x="1070" y="767">Carl Friedrich G</text></g><g id="A11"><text x="1100" y="776">Karl Weierstras</text></g><g id="A12"><text x="1060" y="781">Heinrich Weber</text></g><g id="A13"><text x="1132" y="787">Jean Gregorie Pa</text></g><g id="A14"><text x="1162" y="795">Paul Bachmann</text></g><g id="A15"><text x="1080" y="801">Georg Ferdinand</text></g><g id="A16"><text x="1115" y="807">Richard Courant</text></g><g id="A17"><text x="1100" y="816">Lazarus Fuchs</text></g><g id="A18"><text x="1080" y="824">Jacques Hadamar</text></g><g id="A19"><text x="1130" y="837">Felix Hausdorff</text></g><g id="A20"><text x="1070" y="841">Adolf Hurwitz</text></g>
</g>
<g class="nodes" id="panel-r3c6">
<g id="B1"><text x="1332" y="793">Ernst Eduard Kum</text></g><g id="B2"><text x="1340" y="709">Jacques Hadamar</text></g><g id="B3"><text x="1336" y="717">Georg Frobenius</text></g><g id="B4"><text x="1338" y="723">Ferdinand Gotth</text></g><g id="B5"><text x="1356" y="736">Carl Ludwig Sieg</text></g><g id="B6"><text x="1386" y="749">Emil Artin</text></g><g id="B7"><text x="1300" y="729">Georg Ferdinand</text></g><g id="B8"><text x="1330" y="736">Elwin Bruno Chr</text></g><g id="B9"><text x="1318" y="751">Lazarus Fuchs</text></g><g id="B10"><text x="1346" y="752">Paul Bachmann</text></g><g id="B11"><text x="1300" y="757">Heinrich Weber</text></g><g id="B12"><text x="1316" y="763">Issai Schur</text></g><g id="B13"><text x="1342" y="767">Karl Weierstras</text></g><g id="B14"><text x="1290" y="777">Max August Zorn</text></g><g id="B15"><text x="1362" y="781">Richard Courant</text></g><g id="B16"><text x="1300" y="797">Felix Hausdorff</text></g><g id="B17"><text x="1342" y="799">Paul Du Bois-Rey</text></g><g id="B18"><text x="1326" y="807">Hermann Amandus</text></g><g id="B19"><text x="1300" y="821">Otto Ludwig Höl</text></g><g id="B20"><text x="1325" y="824">Friedrich Wilhel</text></g><g id="B21"><text x="1330" y="861">Carl Friedrich G</text></g>
</g>

<g class="nodes" id="panel-r4c0">
<g id="C1"><text x="121" y="980">Ernst Eduard Kum</text></g><g id="C2"><text x="25" y="921">Max August Zorn</text></g><g id="C3"><text x="41" y="924">Emil Artin</text></g><g id="C4"><text x="66" y="938">Otto Ludwig Höl</text></g><g id="C5"><text x="168" y="933">Carl Friedrich G</text></g><g id="C6"><text x="113" y="952">Felix Hausdorff</text></g><g id="C7"><text x="90" y="957">Paul Du Bois-Rey</text></g><g id="C8"><text x="140" y="955">Friedrich Wilhel</text></g><g id="C9"><text x="132" y="963">Johann Peter Gu</text></g><g id="C10"><text x="110" y="963">Jacques Hadamar</text></g><g id="C11"><text x="145" y="983">Hermann Amandus</text></g><g id="C12"><text x="101" y="988">Georg Ferdinand</text></g><g id="C13"><text x="177" y="991">Jean Gregorie Pa</text></g><g id="C14"><text x="62" y="989">Issai Schur</text></g><g id="C15"><text x="108" y="1000">Paul Bachmann</text></g><g id="C16"><text x="133" y="1003">Ferdinand Gotth</text></g><g id="C17"><text x="84" y="1007">Georg Frobenius</text></g><g id="C18"><text x="158" y="1006">Heinrich Weber</text></g><g id="C19"><text x="184" y="1009">David A. Smith</text></g><g id="C20"><text x="60" y="1014">Karl Weierstras</text></g><g id="C21"><text x="116" y="1023">Richard Courant</text></g><g id="C22"><text x="177" y="1028">Alexander Ostr</text></g><g id="C23"><text x="158" y="1036">Carl Ludwig Sieg</text></g><g id="C24"><text x="74" y="1037">Helmut Wielandt</text></g><g id="C25"><text x="46" y="1039">Pierre Samuel</text></g><g id="C26"><text x="122" y="1051">Richard Dedekind</text></g><g id="C27"><text x="89" y="1057">Alfred Brauer</text></g><g id="C28"><text x="45" y="1058">John Thompson</text></g><g id="C29"><text x="68" y="1067">Hans Rademacher</text></g><g id="C30"><text x="90" y="1084">Michael Aschb</text></g>
</g>
<g class="nodes" id="panel-r4c1">
<g id="D1"><text x="228" y="919">Richard Brauer</text></g><g id="D2"><text x="340" y="919">Helmut Wielandt</text></g><g id="D3"><text x="222" y="946">Emil Artin</text></g><g id="D4"><text x="338" y="946">Max August Zorn</text></g><g id="D5"><text x="352" y="946">Kurt Hirsch</text></g><g id="D6"><text x="366" y="946">Alfred Brauer</text></g><g id="D7"><text x="380" y="946">Hans Rademacher</text></g>
<g id="D8"><text x="228" y="973">Otto Ludwig Höl</text></g><g id="D9"><text x="244" y="973">Felix Hausdorff</text></g><g id="D10"><text x="260" y="973">Jacques Hadamar</text></g><g id="D11"><text x="276" y="973">Richard Courant</text></g><g id="D12"><text x="292" y="973">Carl Ludwig Sieg</text></g><g id="D13"><text x="308" y="973">Jean Gregorie Pa</text></g><g id="D14"><text x="324" y="973">Richard Dedekind</text></g><g id="D15"><text x="340" y="973">Karl Weierstras</text></g><g id="D16"><text x="356" y="973">Adolf Hurwitz</text></g><g id="D17"><text x="372" y="973">Heinz Prüfer</text></g><g id="D18"><text x="388" y="973">Otto Toeplitz</text></g>
<g id="D19"><text x="226" y="1001">Ferdinand Gotth</text></g><g id="D20"><text x="241" y="1001">Paul Du Bois-Rey</text></g><g id="D21"><text x="256" y="1001">Elwin Bruno Chr</text></g><g id="D22"><text x="271" y="1001">Georg Ferdinand</text></g><g id="D23"><text x="286" y="1001">Hermann Amandus</text></g><g id="D24"><text x="301" y="1001">Issai Schur</text></g><g id="D25"><text x="316" y="1001">Heinrich Weber</text></g><g id="D26"><text x="331" y="1001">Lazarus Fuchs</text></g><g id="D27"><text x="346" y="1001">Paul Bachmann</text></g><g id="D28"><text x="361" y="1001">Georg Frobenius</text></g><g id="D29"><text x="376" y="1001">Felix Klein</text></g><g id="D30"><text x="392" y="1001">Hermann Weyl</text></g>
<g id="D31"><text x="300" y="1029">Ernst Eduard Kum</text></g><g id="D32"><text x="302" y="1058">Friedrich Wilhel</text></g><g id="D33"><text x="302" y="1084">Carl Friedrich G</text></g>
</g>
<g class="nodes" id="panel-r4c2">
<g id="E1"><text x="490" y="921">Carl Friedrich G</text></g><g id="E2"><text x="490" y="948">Friedrich Wilhel</text></g><g id="E3"><text x="490" y="976">Ernst Eduard Kum</text></g>
<g id="E4"><text x="425" y="1003">Ferdinand Gotth</text></g><g id="E5"><text x="439" y="1003">Paul Du Bois-Rey</text></g><g id="E6"><text x="453" y="1003">Elwin Bruno Chr</text></g><g id="E7"><text x="467" y="1003">Georg Ferdinand</text></g><g id="E8"><text x="481" y="1003">Hermann Amandus</text></g><g id="E9"><text x="495" y="1003">Issai Schur</text></g><g id="E10"><text x="509" y="1003">Heinrich Weber</text></g><g id="E11"><text x="523" y="1003">Lazarus Fuchs</text></g><g id="E12"><text x="537" y="1003">Paul Bachmann</text></g><g id="E13"><text x="551" y="1003">Georg Frobenius</text></g><g id="E14"><text x="565" y="1003">Felix Klein</text></g><g id="E15"><text x="579" y="1003">Hermann Weyl</text></g><g id="E16"><text x="593" y="1003">Adolf Hurwitz</text></g>
<g id="E17"><text x="445" y="1031">Otto Ludwig Höl</text></g><g id="E18"><text x="460" y="1031">Felix Hausdorff</text></g><g id="E19"><text x="475" y="1031">Jacques Hadamar</text></g><g id="E20"><text x="490" y="1031">Richard Courant</text></g><g id="E21"><text x="510" y="1031">Carl Ludwig Sieg</text></g><g id="E22"><text x="527" y="1031">Jean Gregorie Pa</text></g><g id="E23"><text x="545" y="1031">Richard Dedekind</text></g><g id="E24"><text x="562" y="1031">Karl Weierstras</text></g><g id="E25"><text x="578" y="1031">Heinz Prüfer</text></g>
<g id="E26"><text x="455" y="1058">Emil Artin</text></g><g id="E27"><text x="525" y="1058">Alfred Brauer</text></g><g id="E28"><text x="458" y="1086">Max August Zorn</text></g><g id="E29"><text x="525" y="1086">Kurt Hirsch</text></g>
</g>
<g class="nodes" id="panel-r4c3">
<g id="F1"><text x="716" y="992">Ernst Eduard Kum</text></g><g id="F2"><text x="686" y="921">Richard Courant</text></g><g id="F3"><text x="666" y="927">Carl Ludwig Sieg</text></g><g id="F4"><text x="680" y="936">Jean Gregorie Pa</text></g><g id="F5"><text x="663" y="944">Felix Hausdorff</text></g><g id="F6"><text x="700" y="946">Otto Ludwig Höl</text></g><g id="F7"><text x="706" y="956">Paul Du Bois-Rey</text></g><g id="F8"><text x="722" y="961">Georg Ferdinand</text></g><g id="F9"><text x="690" y="969">Issai Schur</text></g><g id="F10"><text x="745" y="969">Hermann Amandus</text></g><g id="F11"><text x="762" y="977">Paul Bachmann</text></g><g id="F12"><text x="772" y="991">Heinrich Weber</text></g><g id="F13"><text x="780" y="1001">Alfred Brauer</text></g><g id="F14"><text x="757" y="1007">Lazarus Fuchs</text></g><g id="F15"><text x="660" y="986">Elwin Bruno Chr</text></g><g id="F16"><text x="666" y="1001">Ferdinand Gotth</text></g><g id="F17"><text x="650" y="1011">Georg Frobenius</text></g><g id="F18"><text x="640" y="1026">Jacques Hadamar</text></g><g id="F19"><text x="700" y="1013">Friedrich Wilhel</text></g><g id="F20"><text x="725" y="1011">Karl Weierstras</text></g><g id="F21"><text x="658" y="1046">Richard Dedekind</text></g><g id="F22"><text x="700" y="1031">Carl Friedrich G</text></g><g id="F23"><text x="640" y="1061">Emil Artin</text></g><g id="F24"><text x="630" y="1086">Max August Zorn</text></g>
</g>
<g class="nodes" id="panel-r4c4">
<g id="G1"><text x="936" y="1002">Ernst Eduard Kum</text></g><g id="G2"><text x="905" y="921">Carl Friedrich G</text></g><g id="G3"><text x="912" y="941">Friedrich Wilhel</text></g><g id="G4"><text x="965" y="934">Carl Ludwig Sieg</text></g><g id="G5"><text x="992" y="947">Georg Ferdinand</text></g><g id="G6"><text x="855" y="936">Paul Du Bois-Rey</text></g><g id="G7"><text x="845" y="951">Emil Artin</text></g><g id="G8"><text x="880" y="957">Otto Ludwig Höl</text></g><g id="G9"><text x="910" y="963">Elwin Bruno Chr</text></g><g id="G10"><text x="938" y="962">Ferdinand Gotth</text></g><g id="G11"><text x="990" y="961">Heinrich Weber</text></g><g id="G12"><text x="985" y="977">Jean Gregorie Pa</text></g><g id="G13"><text x="900" y="1011">Felix Hausdorff</text></g><g id="G14"><text x="880" y="1017">Georg Frobenius</text></g><g id="G15"><text x="962" y="1009">Issai Schur</text></g><g id="G16"><text x="956" y="1023">Hermann Amandus</text></g><g id="G17"><text x="860" y="1031">Paul Bachmann</text></g><g id="G18"><text x="850" y="1056">Karl Weierstras</text></g><g id="G19"><text x="900" y="1041">Jacques Hadamar</text></g><g id="G20"><text x="928" y="1047">Richard Courant</text></g><g id="G21"><text x="880" y="1066">Max August Zorn</text></g><g id="G22"><text x="820" y="1081">Adolf Hurwitz</text></g><g id="G23"><text x="862" y="1076">Alfred Brauer</text></g><g id="G24"><text x="906" y="1076">Richard Dedekind</text></g><g id="G25"><text x="945" y="1071">Lazarus Fuchs</text></g>
</g>
<g class="nodes" id="panel-r4c5">
<g id="H1"><text x="1108" y="950">Ernst Eduard Kum</text></g><g id="H2"><text x="1065" y="926">Ferdinand Gotth</text></g><g id="H3"><text x="1105" y="921">Paul Du Bois-Rey</text></g><g id="H4"><text x="1080" y="936">Georg Frobenius</text></g><g id="H5"><text x="1060" y="946">Otto Ludwig Höl</text></g><g id="H6"><text x="1136" y="931">Jean Gregorie Pa</text></g><g id="H7"><text x="1118" y="941">Elwin Bruno Chr</text></g><g id="H8"><text x="1040" y="961">Friedrich Wilhel</text></g><g id="H9"><text x="1042" y="973">Carl Ludwig Sieg</text></g><g id="H10"><text x="1130" y="961">Issai Schur</text></g><g id="H11"><text x="1195" y="986">Max August Zorn</text></g><g id="H12"><text x="1165" y="978">Emil Artin</text></g><g id="H13"><text x="1080" y="986">Hermann Amandus</text></g><g id="H14"><text x="1122" y="987">Karl Weierstras</text></g><g id="H15"><text x="1060" y="1001">Georg Ferdinand</text></g><g id="H16"><text x="1100" y="1006">Richard Courant</text></g><g id="H17"><text x="1140" y="1011">Heinrich Weber</text></g><g id="H18"><text x="1080" y="1016">Felix Klein</text></g><g id="H19"><text x="1106" y="1021">Otto Toeplitz</text></g><g id="H20"><text x="1150" y="1031">Paul Bachmann</text></g><g id="H21"><text x="1100" y="1046">Felix Hausdorff</text></g><g id="H22"><text x="1086" y="1053">Carl Friedrich G</text></g><g id="H23"><text x="1126" y="1056">Jacques Hadamar</text></g><g id="H24"><text x="1142" y="1063">Lazarus Fuchs</text></g><g id="H25"><text x="1154" y="1071">Hans Rademacher</text></g><g id="H26"><text x="1130" y="1077">Alfred Brauer</text></g><g id="H27"><text x="1112" y="1084">Helmut Wielandt</text></g>
</g>
<g class="nodes" id="panel-r4c6">
<g id="I1"><text x="1327" y="1006">Ernst Eduard Kum</text></g><g id="I2"><text x="1244" y="923">Kurt Hirsch</text></g><g id="I3"><text x="1340" y="923">Helmut Wielandt</text></g><g id="I4"><text x="1327" y="929">Richard Brauer</text></g><g id="I5"><text x="1353" y="933">Jean Gregorie Pa</text></g><g id="I6"><text x="1268" y="938">Heinz Prüfer</text></g><g id="I7"><text x="1255" y="943">Alfred Brauer</text></g><g id="I8"><text x="1403" y="948">Max August Zorn</text></g><g id="I9"><text x="1301" y="947">Felix Klein</text></g><g id="I10"><text x="1360" y="954">Carl Ludwig Sieg</text></g><g id="I11"><text x="1338" y="963">Hermann Amandus</text></g><g id="I12"><text x="1290" y="961">Georg Frobenius</text></g><g id="I13"><text x="1388" y="971">Emil Artin</text></g><g id="I14"><text x="1248" y="964">Hans Rademacher</text></g><g id="I15"><text x="1317" y="972">Jacques Hadamar</text></g><g id="I16"><text x="1281" y="973">Issai Schur</text></g><g id="I17"><text x="1327" y="977">Heinrich Weber</text></g><g id="I18"><text x="1265" y="978">Richard Courant</text></g><g id="I19"><text x="1304" y="983">Lazarus Fuchs</text></g><g id="I20"><text x="1244" y="986">Otto Toeplitz</text></g><g id="I21"><text x="1377" y="997">Otto Ludwig Höl</text></g><g id="I22"><text x="1295" y="994">Georg Ferdinand</text></g><g id="I23"><text x="1340" y="995">Elwin Bruno Chr</text></g><g id="I24"><text x="1352" y="1013">Paul Du Bois-Rey</text></g><g id="I25"><text x="1304" y="1019">Felix Hausdorff</text></g><g id="I26"><text x="1338" y="1030">Ferdinand Gotth</text></g><g id="I27"><text x="1309" y="1037">Paul Bachmann</text></g><g id="I28"><text x="1321" y="1045">Friedrich Wilhel</text></g><g id="I29"><text x="1330" y="1083">Carl Friedrich G</text></g>
</g>
</svg>
